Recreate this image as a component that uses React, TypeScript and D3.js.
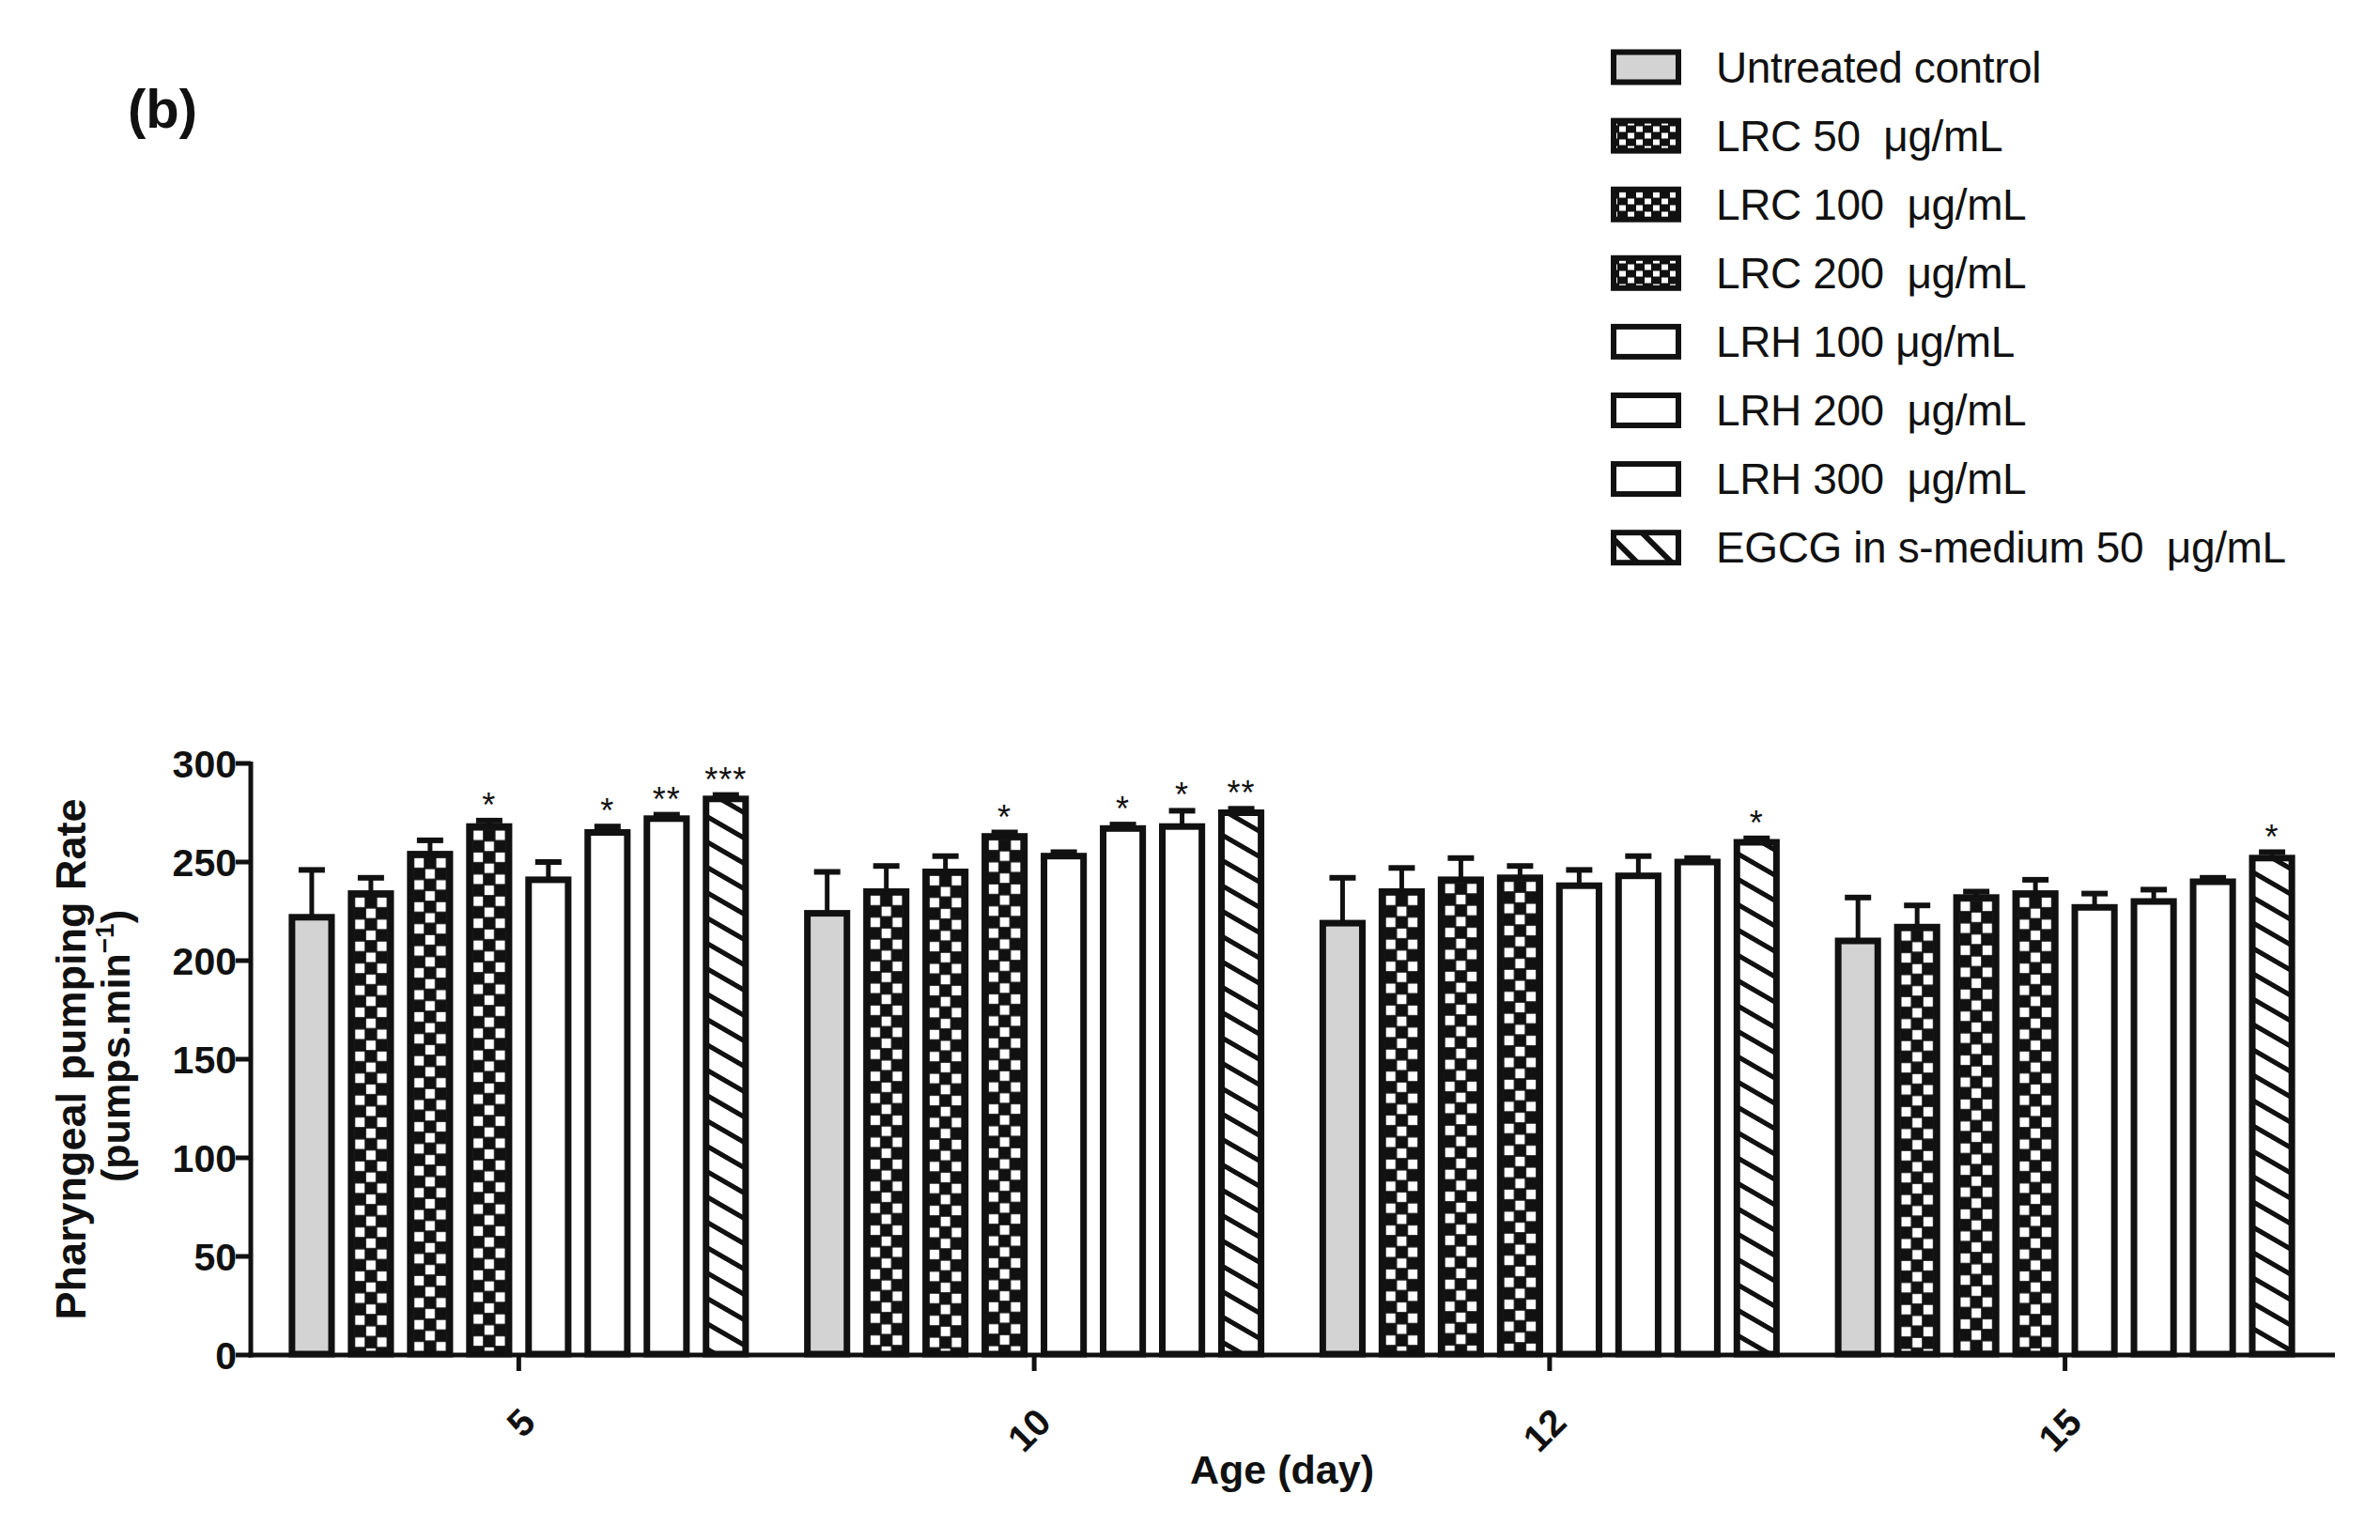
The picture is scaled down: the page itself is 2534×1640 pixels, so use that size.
import React from 'react';
import * as d3 from 'd3';

// ---------- data ----------
const days = ['5', '10', '12', '15'];
const seriesKeys = ['ctrl', 'lrc50', 'lrc100', 'lrc200', 'lrh100', 'lrh200', 'lrh300', 'egcg'];
const seriesLabels = [
  'Untreated control',
  'LRC 50  μg/mL',
  'LRC 100  μg/mL',
  'LRC 200  μg/mL',
  'LRH 100 μg/mL',
  'LRH 200  μg/mL',
  'LRH 300  μg/mL',
  'EGCG in s-medium 50  μg/mL',
];

const controlMean = [222, 224, 219, 210];
const controlErr = [24, 21, 23, 22];
const lrc50Mean = [234, 235, 235, 217];
const lrc50Err = [8, 13, 12, 11];
const lrc100Mean = [254, 245, 241, 232];
const lrc100Err = [7, 8, 11, 3];
const lrc200Mean = [268, 263, 242, 234];
const lrc200Err = [3, 2, 6, 7];
const lrh100Mean = [241, 253, 238, 227];
const lrh100Err = [9, 2, 8, 7];
const lrh200Mean = [265, 267, 243, 230];
const lrh200Err = [3, 2, 10, 6];
const lrh300Mean = [272, 268, 250, 240];
const lrh300Err = [2, 8, 2, 2];
const egcgMean = [282, 275, 260, 252];
const egcgErr = [2, 2, 2, 3];

const controlStars = ['', '', '', ''];
const lrc50Stars = ['', '', '', ''];
const lrc100Stars = ['', '', '', ''];
const lrc200Stars = ['*', '*', '', ''];
const lrh100Stars = ['', '', '', ''];
const lrh200Stars = ['*', '*', '', ''];
const lrh300Stars = ['**', '*', '', ''];
const egcgStars = ['***', '**', '*', '*'];

const yTicks = [0, 50, 100, 150, 200, 250, 300];

const means = [controlMean, lrc50Mean, lrc100Mean, lrc200Mean, lrh100Mean, lrh200Mean, lrh300Mean, egcgMean];
const errs = [controlErr, lrc50Err, lrc100Err, lrc200Err, lrh100Err, lrh200Err, lrh300Err, egcgErr];
const stars = [controlStars, lrc50Stars, lrc100Stars, lrc200Stars, lrh100Stars, lrh200Stars, lrh300Stars, egcgStars];

// ---------- styles ----------
const kind: Record<string, string> = {
  ctrl: 'gray',
  lrc50: 'checker',
  lrc100: 'checker',
  lrc200: 'checker',
  lrh100: 'white',
  lrh200: 'white',
  lrh300: 'white',
  egcg: 'hatch',
};

const FONT = '"Liberation Sans", Arial, sans-serif';
const INK = '#111';
const GRAY = '#d3d3d3';

export default function App() {
  const W = 2534;
  const H = 1640;
  const axisX = 267;
  const y = d3.scaleLinear().domain([0, 300]).range([1443, 813]);
  const x0 = d3.scalePoint<string>().domain(days).range([axisX, 2484]).padding(0.52);
  const x1 = d3.scaleBand<string>().domain(seriesKeys).range([-245, 245]).paddingInner(0.22);
  const bw = x1.bandwidth();
  const sw = 7;

  const patterns: any[] = [];
  const bars: any[] = [];
  const errBars: any[] = [];
  const starTexts: any[] = [];
  days.forEach((d, di) => {
    seriesKeys.forEach((k, si) => {
      const v = means[si][di];
      const e = errs[si][di];
      const bx = (x0(d) as number) + (x1(k) as number);
      const cx = bx + bw / 2;
      let fill = '#fff';
      if (kind[k] === 'gray') fill = GRAY;
      if (kind[k] === 'hatch') fill = 'url(#hatch)';
      if (kind[k] === 'checker') {
        const id = `chk-${di}-${si}`;
        const inner = bw - 2 * sw;
        const cell = inner / 3;
        patterns.push(
          <pattern
            key={id}
            id={id}
            patternUnits="userSpaceOnUse"
            x={bx + sw}
            y={y(v) + sw / 2}
            width={cell * 2}
            height={cell * 2}
          >
            <rect x={0} y={0} width={cell * 2} height={cell * 2} fill={INK} />
            <rect x={0.8} y={0.8} width={cell - 1.6} height={cell - 1.6} fill="#fff" />
            <rect x={cell + 0.8} y={cell + 0.8} width={cell - 1.6} height={cell - 1.6} fill="#fff" />
          </pattern>
        );
        fill = `url(#${id})`;
      }
      bars.push(
        <rect
          key={`b-${d}-${k}`}
          x={bx + sw / 2}
          y={y(v)}
          width={bw - sw}
          height={y(0) - y(v) - 1}
          fill={fill}
          stroke={INK}
          strokeWidth={sw}
        />
      );
      errBars.push(
        <g key={`e-${d}-${k}`} stroke={INK}>
          <line x1={cx} x2={cx} y1={y(v)} y2={y(v + e)} strokeWidth={5} />
          <line x1={cx - 14} x2={cx + 14} y1={y(v + e)} y2={y(v + e)} strokeWidth={6} />
        </g>
      );
      const s = stars[si][di];
      if (s) {
        starTexts.push(
          <text
            key={`s-${d}-${k}`}
            x={cx}
            y={y(v + e) - 4}
            textAnchor="middle"
            fontFamily={FONT}
            fontSize={36}
            letterSpacing={1}
            fill={INK}
          >
            {s}
          </text>
        );
      }
    });
  });

  const legendX = 1718;
  const legendY0 = 71.5;
  const legendStep = 73.1;

  const legendFill = (k: string) => {
    if (kind[k] === 'gray') return GRAY;
    if (kind[k] === 'hatch') return 'url(#hatchL)';
    if (kind[k] === 'checker') return 'url(#checkerL)';
    return '#fff';
  };

  const midY = (y(0) + y(300)) / 2;

  return (
    <svg
      width={W}
      height={H}
      viewBox={`0 0 ${W} ${H}`}
      style={{ position: 'absolute', left: 0, top: 0, background: '#fff' }}
    >
      <defs>
        {patterns}
        <pattern id="hatch" patternUnits="userSpaceOnUse" width={20} height={27} patternTransform="skewY(30)">
          <rect x={0} y={0} width={20} height={27} fill="#fff" />
          <rect x={0} y={0} width={20} height={6} fill={INK} />
        </pattern>
        <pattern id="checkerL" patternUnits="userSpaceOnUse" width={18} height={14} x={legendX + 5} y={legendY0 - 14}>
          <rect x={0} y={0} width={18} height={14} fill={INK} />
          <rect x={1} y={7} width={7} height={6} fill="#fff" />
          <rect x={10} y={0} width={7} height={6} fill="#fff" />
        </pattern>
        <pattern id="hatchL" patternUnits="userSpaceOnUse" width={26} height={26} patternTransform="rotate(-45)">
          <rect x={0} y={0} width={26} height={26} fill="#fff" />
          <rect x={0} y={0} width={6} height={26} fill={INK} />
        </pattern>
      </defs>
      <rect x={0} y={0} width={W} height={H} fill="#fff" />

      {/* panel label */}
      <text x={136} y={136} fontFamily={FONT} fontWeight="bold" fontSize={58} fill={INK}>
        (b)
      </text>

      {/* legend */}
      {seriesKeys.map((k, i) => {
        const cy = legendY0 + legendStep * i;
        return (
          <g key={`lg-${k}`}>
            <rect
              x={legendX}
              y={cy - 16}
              width={69}
              height={32}
              fill={legendFill(k)}
              stroke={INK}
              strokeWidth={6}
            />
            <text
              x={1827}
              y={cy + 16}
              fontFamily={FONT}
              fontSize={46}
              letterSpacing={-0.4}
              fill={INK}
              xmlSpace="preserve"
              style={{ whiteSpace: 'pre' }}
            >
              {seriesLabels[i]}
            </text>
          </g>
        );
      })}

      {/* bars */}
      {bars}
      {errBars}
      {starTexts}

      {/* y axis */}
      <line x1={axisX} x2={axisX} y1={y(0) + 2.5} y2={y(300) - 2} stroke={INK} strokeWidth={5} />
      {yTicks.map((t) => (
        <g key={`yt-${t}`}>
          <line x1={axisX - 16} x2={axisX} y1={y(t)} y2={y(t)} stroke={INK} strokeWidth={5} />
          <text
            x={axisX - 15}
            y={y(t) + 15}
            textAnchor="end"
            fontFamily={FONT}
            fontWeight="bold"
            fontSize={41}
            fill={INK}
          >
            {t}
          </text>
        </g>
      ))}

      {/* x axis */}
      <line x1={axisX - 2.5} x2={2486} y1={y(0)} y2={y(0)} stroke={INK} strokeWidth={5} />
      {days.map((d) => {
        const cx = x0(d) as number;
        return (
          <g key={`xt-${d}`}>
            <line x1={cx} x2={cx} y1={y(0)} y2={y(0) + 17} stroke={INK} strokeWidth={5} />
            <text
              transform={`translate(${cx + 20},${y(0) + 74}) rotate(-45)`}
              textAnchor="end"
              fontFamily={FONT}
              fontWeight="bold"
              fontSize={40}
              fill={INK}
            >
              {d}
            </text>
          </g>
        );
      })}

      {/* axis titles */}
      <text
        x={1365}
        y={1580}
        textAnchor="middle"
        fontFamily={FONT}
        fontWeight="bold"
        fontSize={43}
        fill={INK}
      >
        Age (day)
      </text>
      <text
        transform={`translate(91,${midY}) rotate(-90)`}
        textAnchor="middle"
        fontFamily={FONT}
        fontWeight="bold"
        fontSize={45}
        fill={INK}
      >
        Pharyngeal pumping Rate
      </text>
      <text
        transform={`translate(138,${midY - 14}) rotate(-90)`}
        textAnchor="middle"
        fontFamily={FONT}
        fontWeight="bold"
        fontSize={43}
        fill={INK}
      >
        (pumps.min
        <tspan dy={-17} fontSize={28}>
          −1
        </tspan>
        <tspan dy={17}>)</tspan>
      </text>
    </svg>
  );
}
